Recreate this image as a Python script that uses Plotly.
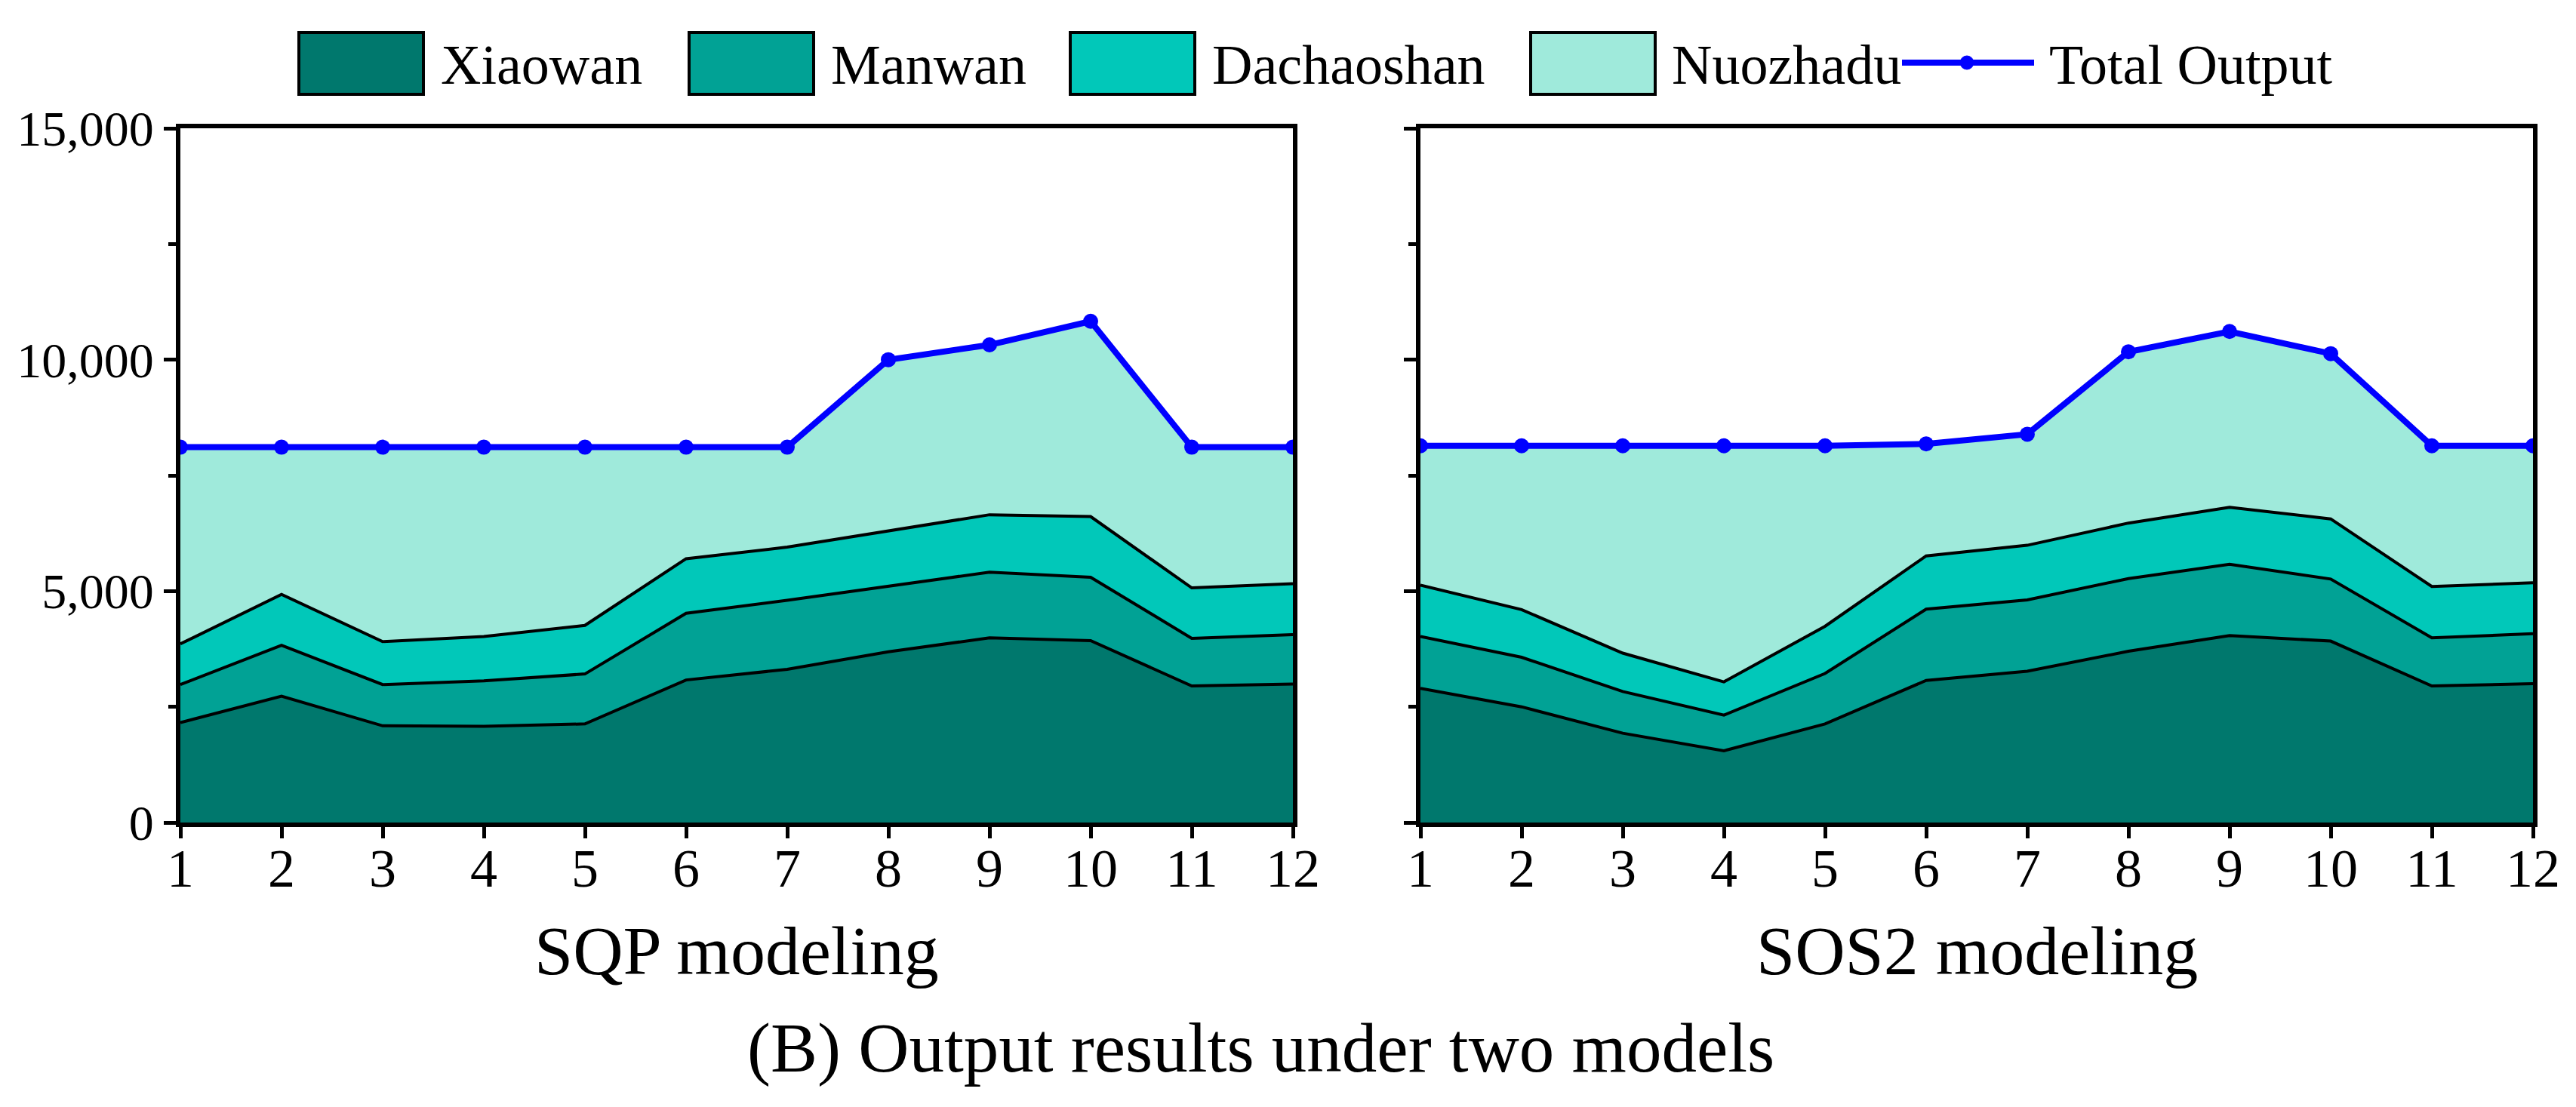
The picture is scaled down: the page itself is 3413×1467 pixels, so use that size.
import plotly.graph_objects as go

months = list(range(1, 13))
stations = ["Xiaowan", "Manwan", "Dachaoshan", "Nuozhadu"]
colors = ["#00786D", "#01A295", "#01C8B9", "#9FEADB"]

# SQP modeling (left)
sqp_xiaowan = [2160, 2730, 2090, 2080, 2130, 3080, 3310, 3690, 3990, 3930, 2950, 2990]
sqp_manwan = [820, 1100, 890, 980, 1080, 1440, 1490, 1420, 1420, 1370, 1030, 1070]
sqp_dachaoshan = [880, 1100, 930, 960, 1050, 1180, 1150, 1190, 1240, 1310, 1090, 1100]
sqp_nuozhadu = [4250, 3180, 4200, 4090, 3850, 2410, 2160, 3700, 3670, 4220, 3040, 2950]
sqp_total = [8110, 8110, 8110, 8110, 8110, 8110, 8110, 10000, 10320, 10830, 8110, 8110]

# SOS2 modeling (right)
sos_xiaowan = [2900, 2500, 1930, 1550, 2130, 3070, 3270, 3700, 4040, 3920, 2950, 3000]
sos_manwan = [1120, 1070, 900, 770, 1090, 1540, 1540, 1570, 1540, 1340, 1040, 1080]
sos_dachaoshan = [1110, 1030, 830, 720, 1020, 1150, 1180, 1200, 1230, 1300, 1110, 1100]
sos_nuozhadu = [3010, 3540, 4480, 5100, 3900, 2420, 2400, 3700, 3800, 3570, 3040, 2960]
sos_total = [8140, 8140, 8140, 8140, 8140, 8180, 8390, 10170, 10610, 10130, 8140, 8140]

y_ticks = [0, 5000, 10000, 15000]
subtitles = ["SQP modeling", "SOS2 modeling"]
caption = "(B) Output results under two models"

W, H = 3413, 1467
FONT = "Liberation Serif, Times New Roman, serif"

fig = go.Figure()

panels = [
    ("x", "y", [sqp_xiaowan, sqp_manwan, sqp_dachaoshan, sqp_nuozhadu], sqp_total),
    ("x2", "y2", [sos_xiaowan, sos_manwan, sos_dachaoshan, sos_nuozhadu], sos_total),
]
for xa, ya, series, total in panels:
    for name, col, vals in zip(stations, colors, series):
        fig.add_trace(go.Scatter(
            x=months, y=vals, name=name, xaxis=xa, yaxis=ya,
            stackgroup="s" + xa, mode="lines",
            line=dict(color="black", width=4),
            fillcolor=col, showlegend=False, hoverinfo="skip"))
    fig.add_trace(go.Scatter(
        x=months, y=total, name="Total Output", xaxis=xa, yaxis=ya,
        mode="lines+markers", line=dict(color="#0000FF", width=8),
        marker=dict(color="#0000FF", size=20), showlegend=False))

def px_x(v):
    return v / W

def px_y(v):
    return 1 - v / H

dom_left = [px_x(231), px_x(1705)]
dom_right = [px_x(1874), px_x(3348)]
dom_y = [px_y(1082), px_y(162)]

xcommon = dict(range=[1, 12], tickmode="array", tickvals=months,
               ticks="outside", ticklen=15, tickwidth=5, tickcolor="black",
               showline=True, linewidth=6, linecolor="black", mirror=True,
               showgrid=False, zeroline=False, automargin=False,
               ticklabelstandoff=-22,
               tickfont=dict(family=FONT, size=72, color="black"))
ycommon = dict(range=[0, 15000], tickmode="array", tickvals=y_ticks,
               tickformat=",", ticks="outside", ticklen=16, tickwidth=5,
               tickcolor="black", showline=True, linewidth=6, linecolor="black",
               mirror=True, showgrid=False, zeroline=False, automargin=False,
               minor=dict(dtick=2500, tick0=0, ticks="outside", ticklen=10,
                          tickwidth=5, tickcolor="black", showgrid=False),
               tickfont=dict(family=FONT, size=66, color="black"))

fig.update_layout(
    template="none",
    width=W, height=H, autosize=False,
    margin=dict(l=0, r=0, t=0, b=0, pad=0),
    paper_bgcolor="white", plot_bgcolor="white",
    showlegend=False,
    xaxis=dict(domain=dom_left, anchor="y", **xcommon),
    yaxis=dict(domain=dom_y, anchor="x", **ycommon),
    xaxis2=dict(domain=dom_right, anchor="y2", **xcommon),
    yaxis2=dict(domain=dom_y, anchor="x2", showticklabels=False, **ycommon),
)

annotations = []
shapes = []
# subtitles
for name, dom in zip(subtitles, [dom_left, dom_right]):
    annotations.append(dict(text=name, x=(dom[0] + dom[1]) / 2, y=px_y(1252),
                            xref="paper", yref="paper", showarrow=False,
                            xanchor="center", yanchor="middle",
                            font=dict(family=FONT, size=92, color="black")))
annotations.append(dict(text=caption, x=px_x(1662), y=px_y(1380),
                        xref="paper", yref="paper", showarrow=False,
                        xanchor="center", yanchor="middle",
                        font=dict(family=FONT, size=93, color="black")))

# manual legend
sw_left = [388, 905, 1410, 2020]
txt_left = [574, 1091, 1596, 2205]
for name, col, x0, tx in zip(stations, colors, sw_left, txt_left):
    shapes.append(dict(type="rect", xref="paper", yref="paper",
                       x0=px_x(x0), x1=px_x(x0 + 165), y0=px_y(117), y1=px_y(35),
                       fillcolor=col, line=dict(color="black", width=4)))
    annotations.append(dict(text=name, x=px_x(tx), y=px_y(78), xref="paper",
                            yref="paper", showarrow=False, xanchor="left",
                            yanchor="middle",
                            font=dict(family=FONT, size=74, color="black")))
shapes.append(dict(type="line", xref="paper", yref="paper",
                   x0=px_x(2512), x1=px_x(2687), y0=px_y(75), y1=px_y(75),
                   line=dict(color="#0000FF", width=8)))
shapes.append(dict(type="circle", xref="paper", yref="paper",
                   x0=px_x(2589), x1=px_x(2607), y0=px_y(84), y1=px_y(66),
                   fillcolor="#0000FF", line=dict(color="#0000FF", width=1)))
annotations.append(dict(text="Total Output", x=px_x(2705), y=px_y(78),
                        xref="paper", yref="paper", showarrow=False,
                        xanchor="left", yanchor="middle",
                        font=dict(family=FONT, size=74, color="black")))

fig.update_layout(annotations=annotations, shapes=shapes)
fig.write_html("out.html")
